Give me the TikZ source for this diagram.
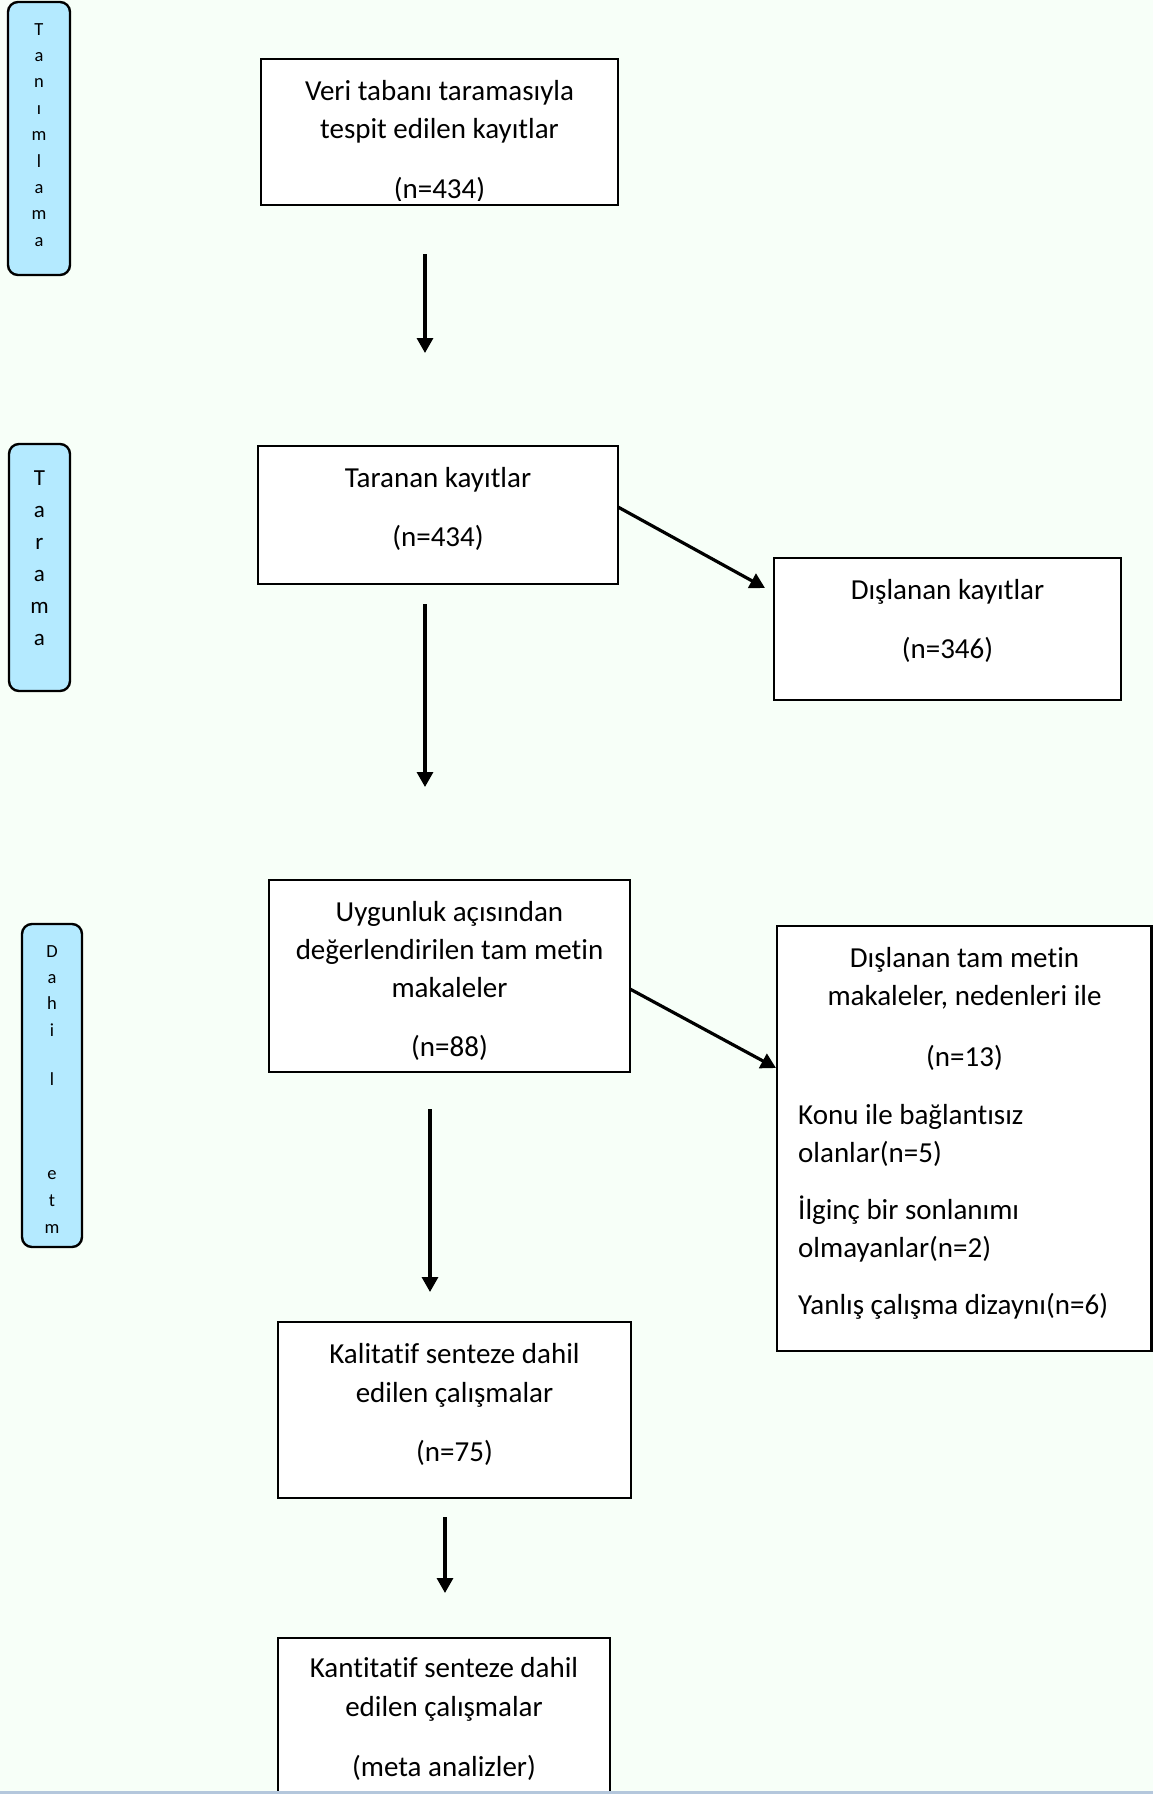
\documentclass[tikz,border=0pt]{standalone}
\usepackage{fontspec}
\setmainfont[Ligatures=NoCommon]{Carlito}
\usetikzlibrary{arrows.meta}
\definecolor{bgc}{RGB}{247,255,248}
\definecolor{labc}{RGB}{180,234,255}
\definecolor{stripc}{RGB}{180,199,220}
\begin{document}
\begin{tikzpicture}[x=1pt,y=-1pt,
  box/.style={draw=black, fill=white, line width=2.6pt, inner sep=0pt, outer sep=0pt},
  lbl/.style={draw=black, fill=labc, line width=2.4pt, rounded corners=10pt, inner sep=0pt},
  txt/.style={inner sep=0pt, anchor=base, font=\fontsize{29}{34}\selectfont},
  txtl/.style={txt, anchor=base west},
  lsm/.style={inner sep=0pt, anchor=base, font=\fontsize{18.5}{20}\selectfont},
  lbig/.style={inner sep=0pt, anchor=base, font=\fontsize{23}{25}\selectfont},
  arr/.style={line width=3.2pt, -{Triangle[width=16pt,length=15pt]}}]
\useasboundingbox (0,0) rectangle (1153,1794);
\fill[bgc] (0,0) rectangle (1153,1794);

% left phase labels
\node[lbl, minimum width=62pt, minimum height=273pt] (L1) at (39,138.5) {};
\foreach \ch [count=\i] in {T,a,n,ı,m,l,a,m,a}
  \node[lsm] (l1-\i) at (39,{35+26.4*(\i-1)}) {\ch};
\node[lbl, minimum width=61pt, minimum height=247pt] (L2) at (39.5,567.5) {};
\foreach \ch [count=\i] in {T,a,r,a,m,a}
  \node[lbig] (l2-\i) at (39.5,{485+32*(\i-1)}) {\ch};
\node[lbl, minimum width=60pt, minimum height=323pt] (L3) at (52,1085.5) {};
\foreach \ch/\yy [count=\i] in {D/957,a/983,h/1009,i/1036,l/1085,e/1179,t/1206,m/1233}
  \node[lsm] (l3-\i) at (52,\yy) {\ch};

% boxes
\node[box, minimum width=357pt, minimum height=146pt] (b1) at (439.5,132) {};
\node[box, minimum width=360pt, minimum height=138pt] (b2) at (438,515) {};
\node[box, minimum width=347pt, minimum height=142pt] (b3) at (947.5,629) {};
\node[box, minimum width=361pt, minimum height=192pt] (b4) at (449.5,976) {};
\node[box, minimum width=374.5pt, minimum height=425pt] (b5) at (964.25,1138.5) {};
\node[box, minimum width=353pt, minimum height=176pt] (b6) at (454.5,1410) {};
\node[box, minimum width=332pt, minimum height=192pt] (b7) at (444,1734) {};

% texts
\node[txt] (t1a) at (439.5,100) {Veri tabanı taramasıyla};
\node[txt] (t1b) at (439.5,138) {tespit edilen kayıtlar};
\begin{scope}
  \clip ([xshift=1.3pt,yshift=5pt]b1.south west) rectangle ([xshift=-1.3pt,yshift=-1.3pt]b1.north east);
  \node[txt] (t1c) at (439.5,198) {(n=434)};
\end{scope}

\node[txt] (t2a) at (438,487) {Taranan kayıtlar};
\node[txt] (t2b) at (438,546) {(n=434)};

\node[txt] (t3a) at (947.5,599) {Dışlanan kayıtlar};
\node[txt] (t3b) at (947.5,658) {(n=346)};

\node[txt] (t4a) at (449.5,921) {Uygunluk açısından};
\node[txt] (t4b) at (449.5,959) {değerlendirilen tam metin};
\node[txt] (t4c) at (449.5,997) {makaleler};
\node[txt] (t4d) at (449.5,1056) {(n=88)};

\node[txt] (t5a) at (964.5,967) {Dışlanan tam metin};
\node[txt] (t5b) at (964.5,1005) {makaleler, nedenleri ile};
\node[txt] (t5c) at (964.5,1066) {(n=13)};
\node[txtl] (t5d) at (798,1124) {Konu ile bağlantısız};
\node[txtl] (t5e) at (798,1162) {olanlar(n=5)};
\node[txtl] (t5f) at (798,1219) {İlginç bir sonlanımı};
\node[txtl] (t5g) at (798,1257) {olmayanlar(n=2)};
\node[txtl] (t5h) at (798,1314) {Yanlış çalışma dizaynı(n=6)};

\node[txt] (t6a) at (454.5,1363) {Kalitatif senteze dahil};
\node[txt] (t6b) at (454.5,1402) {edilen çalışmalar};
\node[txt] (t6c) at (454.5,1461) {(n=75)};

\node[txt] (t7a) at (444,1677) {Kantitatif senteze dahil};
\node[txt] (t7b) at (444,1716) {edilen çalışmalar};
\node[txt] (t7c) at (444,1776) {(meta analizler)};

% arrows
\coordinate (a1s) at (425,254);  \coordinate (a1e) at (425,353);
\coordinate (a2s) at (425,604);  \coordinate (a2e) at (425,787);
\coordinate (a3s) at (430,1109); \coordinate (a3e) at (430,1292);
\coordinate (a4s) at (445,1517); \coordinate (a4e) at (445,1593);
\coordinate (d1s) at (618,507);  \coordinate (d1e) at (765,588);
\coordinate (d2s) at (630,989);  \coordinate (d2e) at (776,1068);
\draw[arr] (a1s) -- (a1e);
\draw[arr] (a2s) -- (a2e);
\draw[arr] (a3s) -- (a3e);
\draw[arr] (a4s) -- (a4e);
\draw[arr] (d1s) -- (d1e);
\draw[arr] (d2s) -- (d2e);

% bottom strip
\fill[stripc] (0,1791) rectangle (1153,1794);
\end{tikzpicture}
\end{document}
